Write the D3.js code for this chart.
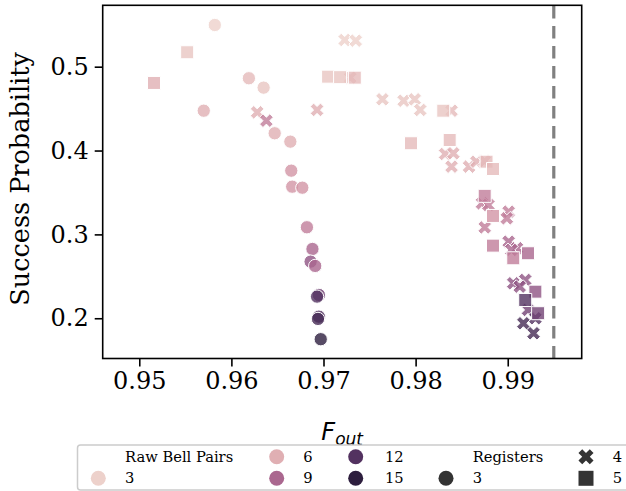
<!DOCTYPE html>
<html>
<head>
<meta charset="utf-8">
<script src="https://cdn.jsdelivr.net/npm/d3@7"></script>
<style>
  html, body { margin: 0; padding: 0; background: #fff; }
  svg { display: block; }
</style>
</head>
<body>
<div id="chart"></div>
<script>
// ---------------- data ----------------
// Registers = 3 (circles): [F_out, success probability, raw Bell pairs]
const reg3 = [
  [0.9582, 0.5497, 3], [0.9619, 0.4862, 5], [0.9635, 0.4750, 4],
  [0.9570, 0.4475, 6], [0.9647, 0.4206, 6], [0.9664, 0.4106, 6],
  [0.9665, 0.3760, 7], [0.9666, 0.3569, 7], [0.9677, 0.3557, 7],
  [0.9682, 0.3085, 8], [0.9688, 0.2826, 9], [0.9686, 0.2675, 10],
  [0.9691, 0.2624, 9], [0.9695, 0.2278, 11], [0.9693, 0.2258, 12],
  [0.9695, 0.2019, 12], [0.9694, 0.1992, 13], [0.9697, 0.1750, 15]
];
// Registers = 4 (X markers)
const reg4 = [
  [0.9628, 0.4456, 6], [0.9638, 0.4356, 8], [0.9693, 0.4484, 6],
  [0.9723, 0.5318, 3], [0.9735, 0.5310, 3], [0.9729, 0.4869, 5],
  [0.9764, 0.4611, 4], [0.9787, 0.4594, 4], [0.9799, 0.4611, 4],
  [0.9805, 0.4484, 4], [0.9839, 0.4475, 5], [0.9832, 0.3959, 6],
  [0.9841, 0.3967, 6], [0.9839, 0.3808, 6], [0.9858, 0.3808, 6],
  [0.9866, 0.3867, 6], [0.9875, 0.3875, 6], [0.9872, 0.3371, 8],
  [0.9879, 0.3351, 8], [0.9901, 0.3271, 8], [0.9899, 0.3192, 8],
  [0.9875, 0.3083, 8], [0.9901, 0.2913, 9], [0.9910, 0.2835, 9],
  [0.9904, 0.2815, 9], [0.9906, 0.2417, 10], [0.9919, 0.2457, 10],
  [0.9913, 0.2377, 10], [0.9922, 0.2099, 11], [0.9930, 0.2000, 12],
  [0.9917, 0.1940, 13], [0.9928, 0.1821, 13]
];
// Registers = 5 (squares)
const reg5 = [
  [0.9516, 0.4806, 6], [0.9552, 0.5172, 4], [0.9705, 0.4881, 4],
  [0.9718, 0.4875, 4], [0.9734, 0.4869, 5], [0.9795, 0.4087, 5],
  [0.9830, 0.4475, 4], [0.9837, 0.4126, 5], [0.9877, 0.3867, 5],
  [0.9884, 0.3780, 5], [0.9875, 0.3460, 8], [0.9884, 0.3220, 7],
  [0.9884, 0.2866, 8], [0.9906, 0.2715, 8], [0.9922, 0.2775, 9],
  [0.9930, 0.2317, 10], [0.9919, 0.2218, 12], [0.9933, 0.2060, 11]
];
const xTicks = [0.95, 0.96, 0.97, 0.98, 0.99];
const yTicks = [0.2, 0.3, 0.4, 0.5];
const threshold = 0.995;
const hueLegend = [3, 6, 9, 12, 15];
const styleLegend = [3, 4, 5];

// ---------------- layout ----------------
const W = 626, H = 491;
const plot = { left: 102.7, right: 581.7, top: 5.3, bottom: 358.5 };
const serif = "'DejaVu Serif', serif";

const x = d3.scaleLinear().domain([0.94603, 0.99803]).range([plot.left, plot.right]);
const y = d3.scaleLinear().domain([0.152, 0.5732]).range([plot.bottom, plot.top]);

// seaborn default cubehelix sequential palette
function cubehelix(v) {
  const start = 0, rot = 0.4, gamma = 1, hue = 0.8;
  const xg = Math.pow(v, gamma);
  const a = hue * xg * (1 - xg) / 2;
  const phi = 2 * Math.PI * (start / 3 + rot * v);
  const f = (p0, p1) => Math.max(0, Math.min(1, xg + a * (p0 * Math.cos(phi) + p1 * Math.sin(phi))));
  return d3.rgb(255 * f(-0.14861, 1.78277), 255 * f(-0.29227, -0.90649), 255 * f(1.97294, 0.0)).formatHex();
}
// hue normalisation matched to the legend swatches of the reference
const hueNorm = d3.scaleLinear().domain([3, 6, 9, 12, 15]).range([0, 0.15, 0.5, 0.85, 1]).clamp(true);
const color = v => cubehelix(0.85 - 0.7 * hueNorm(v));

// marker shapes (matplotlib style, size s = marker diameter in px)
function markerPath(type, s) {
  if (type === 3) {
    return d3.symbol(d3.symbolCircle, Math.PI * (s / 2) * (s / 2))();
  }
  if (type === 5) {
    const h = s / 2;
    return `M${-h},${-h}L${h},${-h}L${h},${h}L${-h},${h}Z`;
  }
  // filled X: plus rotated 45deg
  const pts = [[-1,-3],[-1,-1],[-3,-1],[-3,1],[-1,1],[-1,3],[1,3],[1,1],[3,1],[3,-1],[1,-1],[1,-3]]
    .map(([a, b]) => [a / 6 * s, b / 6 * s])
    .map(([a, b]) => [(a - b) / Math.SQRT2, (a + b) / Math.SQRT2]);
  return "M" + pts.map(p => p[0].toFixed(2) + "," + p[1].toFixed(2)).join("L") + "Z";
}
const markerSize = { 3: 13.3, 4: 14.5, 5: 13 };

const svg = d3.select("#chart").append("svg").attr("width", W).attr("height", H);
svg.append("rect").attr("width", W).attr("height", H).attr("fill", "#fff");

// threshold line
svg.append("line")
  .attr("x1", x(threshold)).attr("x2", x(threshold))
  .attr("y1", plot.bottom).attr("y2", plot.top)
  .attr("stroke", "#808080").attr("stroke-width", 3.2)
  .attr("stroke-dasharray", "12.5,7.5");

const all = [];
reg3.forEach(d => all.push({ fx: d[0], p: d[1], n: d[2], r: 3 }));
reg4.forEach(d => all.push({ fx: d[0], p: d[1], n: d[2], r: 4 }));
reg5.forEach(d => all.push({ fx: d[0], p: d[1], n: d[2], r: 5 }));

svg.append("g").selectAll("path").data(all).join("path")
  .attr("d", d => markerPath(d.r, markerSize[d.r]))
  .attr("transform", d => `translate(${x(d.fx)},${y(d.p)})`)
  .attr("fill", d => color(d.n))
  .attr("fill-opacity", 0.8)
  .attr("stroke", "#fff")
  .attr("stroke-width", 1);

// axes
const xAxis = d3.axisBottom(x).tickValues(xTicks).tickFormat(d3.format(".2f")).tickSize(8).tickPadding(5);
const yAxis = d3.axisLeft(y).tickValues(yTicks).tickFormat(d3.format(".1f")).tickSize(8).tickPadding(6);

const gx = svg.append("g").attr("transform", `translate(0,${plot.bottom})`).call(xAxis);
const gy = svg.append("g").attr("transform", `translate(${plot.left},0)`).call(yAxis);
[gx, gy].forEach(g => {
  g.select(".domain").remove();
  g.selectAll(".tick line").attr("stroke", "#000").attr("stroke-width", 1.6);
  g.selectAll(".tick text").attr("fill", "#000").style("font-family", serif).style("font-size", "24px");
});

// frame
svg.append("rect")
  .attr("x", plot.left).attr("y", plot.top)
  .attr("width", plot.right - plot.left).attr("height", plot.bottom - plot.top)
  .attr("fill", "none").attr("stroke", "#000").attr("stroke-width", 1.6);

// axis labels
svg.append("text")
  .attr("transform", `translate(29,${(plot.top + plot.bottom) / 2 - 3}) rotate(-90)`)
  .attr("text-anchor", "middle")
  .style("font-family", serif).style("font-size", "25.5px")
  .text("Success Probability");

const xl = svg.append("text")
  .attr("x", (plot.left + plot.right) / 2).attr("y", 440)
  .attr("text-anchor", "middle")
  .style("font-family", "'DejaVu Sans', sans-serif").style("font-size", "24px").style("font-style", "italic");
xl.append("tspan").text("F");
xl.append("tspan").attr("dy", 5).style("font-size", "17px").text("out");

// legend
const lg = svg.append("g");
lg.append("rect")
  .attr("x", 77.5).attr("y", 445).attr("width", 560).attr("height", 45)
  .attr("rx", 3)
  .attr("fill", "#fff").attr("fill-opacity", 0.8)
  .attr("stroke", "#cccccc").attr("stroke-width", 1.5);

const row = [456.7, 478.3];
const cols = [
  { mx: 98.3, tx: 125 }, { mx: 276.7, tx: 303.3 }, { mx: 355.7, tx: 385 },
  { mx: 446, tx: 472.7 }, { mx: 586, tx: 612.7 }
];
const entries = [
  { label: "Raw Bell Pairs" },
  ...hueLegend.map(v => ({ label: String(v), hue: v })),
  { label: "Registers" },
  ...styleLegend.map(v => ({ label: String(v), style: v }))
];
entries.forEach((e, i) => {
  const c = cols[Math.floor(i / 2)], ry = row[i % 2];
  if (e.hue !== undefined) {
    lg.append("path").attr("d", markerPath(3, 15))
      .attr("transform", `translate(${c.mx},${ry})`).attr("fill", color(e.hue));
  } else if (e.style !== undefined) {
    lg.append("path").attr("d", markerPath(e.style, e.style === 4 ? 16 : 15))
      .attr("transform", `translate(${c.mx},${ry})`).attr("fill", "#333333");
  }
  lg.append("text").attr("x", c.tx).attr("y", ry + 5)
    .style("font-family", serif).style("font-size", "14.7px")
    .text(e.label);
});
</script>
</body>
</html>
